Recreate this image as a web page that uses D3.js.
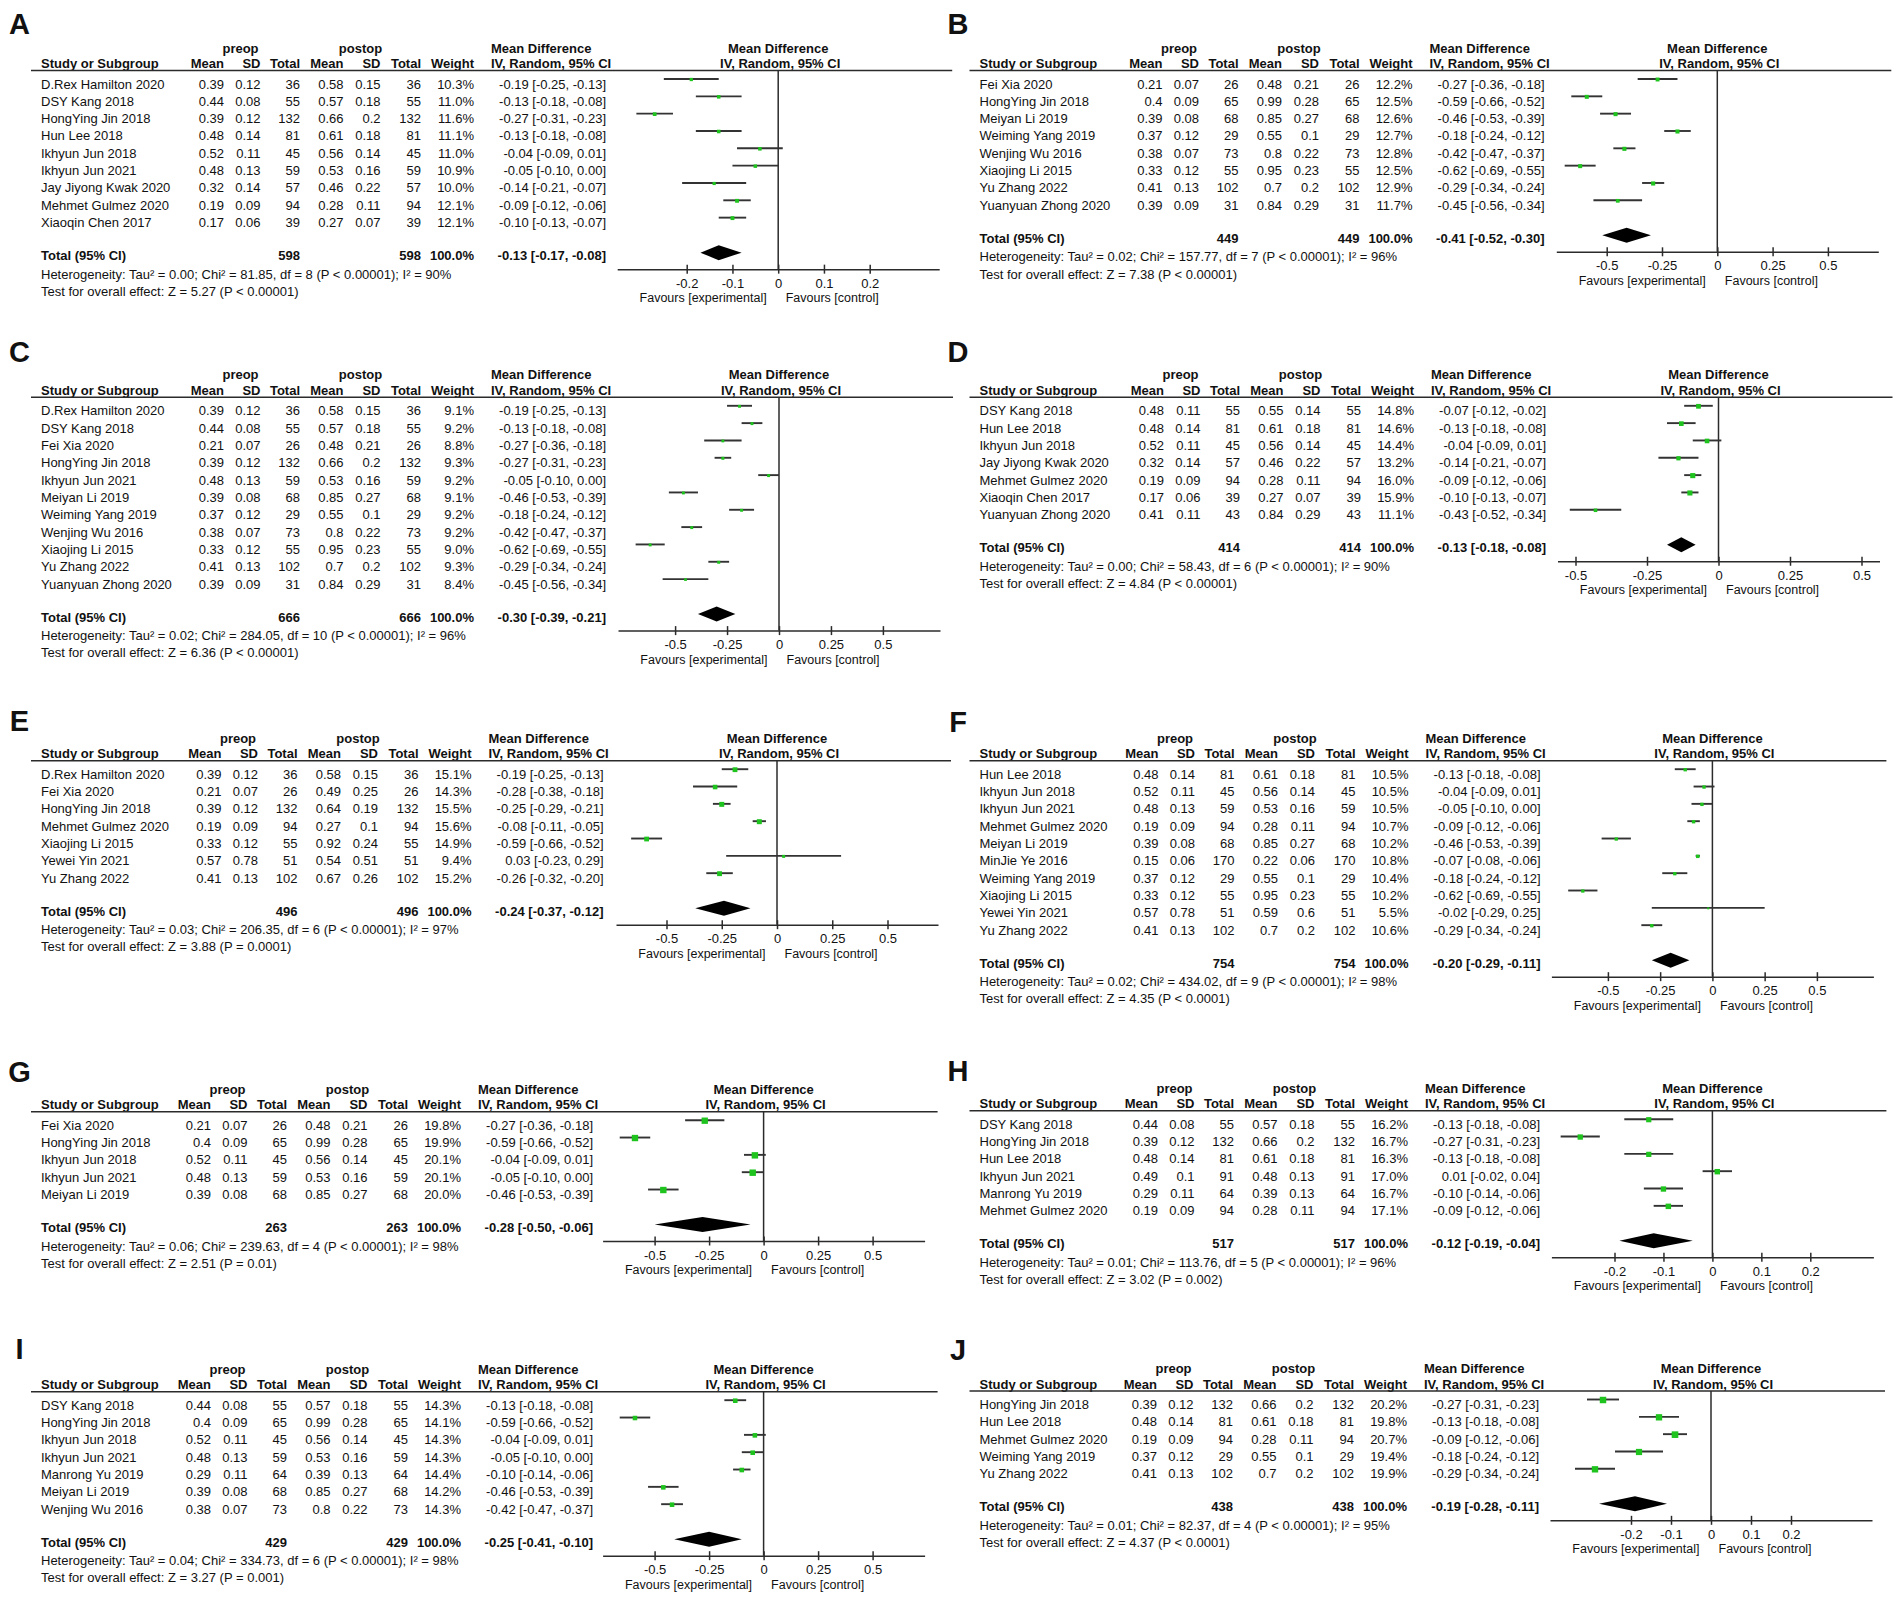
<!DOCTYPE html>
<html>
<head>
<meta charset="utf-8">
<script src="https://cdn.jsdelivr.net/npm/d3@7"></script>
<style>
  body { margin: 0; background: #fff; }
  text { font-family: "Liberation Sans", Arial, sans-serif; font-size: 13px; fill: #111; }
  .b { font-weight: bold; }
  .fav { font-size: 12.5px; }
  .letter { font-size: 29px; font-weight: bold; }
</style>
</head>
<body>
<div id="fig"></div>
<script>
// study, preop mean, sd, total, postop mean, sd, total, weight %, MD, lower, upper
const rowsA = [
  ['D.Rex Hamilton 2020', 0.39, 0.12, 36, 0.58, 0.15, 36, 10.3, -0.19, -0.25, -0.13],
  ['DSY Kang 2018', 0.44, 0.08, 55, 0.57, 0.18, 55, 11.0, -0.13, -0.18, -0.08],
  ['HongYing Jin 2018', 0.39, 0.12, 132, 0.66, 0.2, 132, 11.6, -0.27, -0.31, -0.23],
  ['Hun Lee 2018', 0.48, 0.14, 81, 0.61, 0.18, 81, 11.1, -0.13, -0.18, -0.08],
  ['Ikhyun Jun 2018', 0.52, 0.11, 45, 0.56, 0.14, 45, 11.0, -0.04, -0.09, 0.01],
  ['Ikhyun Jun 2021', 0.48, 0.13, 59, 0.53, 0.16, 59, 10.9, -0.05, -0.10, 0.00],
  ['Jay Jiyong Kwak 2020', 0.32, 0.14, 57, 0.46, 0.22, 57, 10.0, -0.14, -0.21, -0.07],
  ['Mehmet Gulmez 2020', 0.19, 0.09, 94, 0.28, 0.11, 94, 12.1, -0.09, -0.12, -0.06],
  ['Xiaoqin Chen 2017', 0.17, 0.06, 39, 0.27, 0.07, 39, 12.1, -0.10, -0.13, -0.07]
];
const totalA = [598, 598, -0.13, -0.17, -0.08];
const hetA = 'Heterogeneity: Tau² = 0.00; Chi² = 81.85, df = 8 (P < 0.00001); I² = 90%';
const testA = 'Test for overall effect: Z = 5.27 (P < 0.00001)';
const ticksA = [-0.2, -0.1, 0, 0.1, 0.2];

const rowsB = [
  ['Fei Xia 2020', 0.21, 0.07, 26, 0.48, 0.21, 26, 12.2, -0.27, -0.36, -0.18],
  ['HongYing Jin 2018', 0.4, 0.09, 65, 0.99, 0.28, 65, 12.5, -0.59, -0.66, -0.52],
  ['Meiyan Li 2019', 0.39, 0.08, 68, 0.85, 0.27, 68, 12.6, -0.46, -0.53, -0.39],
  ['Weiming Yang 2019', 0.37, 0.12, 29, 0.55, 0.1, 29, 12.7, -0.18, -0.24, -0.12],
  ['Wenjing Wu 2016', 0.38, 0.07, 73, 0.8, 0.22, 73, 12.8, -0.42, -0.47, -0.37],
  ['Xiaojing Li 2015', 0.33, 0.12, 55, 0.95, 0.23, 55, 12.5, -0.62, -0.69, -0.55],
  ['Yu Zhang 2022', 0.41, 0.13, 102, 0.7, 0.2, 102, 12.9, -0.29, -0.34, -0.24],
  ['Yuanyuan Zhong 2020', 0.39, 0.09, 31, 0.84, 0.29, 31, 11.7, -0.45, -0.56, -0.34]
];
const totalB = [449, 449, -0.41, -0.52, -0.30];
const hetB = 'Heterogeneity: Tau² = 0.02; Chi² = 157.77, df = 7 (P < 0.00001); I² = 96%';
const testB = 'Test for overall effect: Z = 7.38 (P < 0.00001)';
const ticksB = [-0.5, -0.25, 0, 0.25, 0.5];

const rowsC = [
  ['D.Rex Hamilton 2020', 0.39, 0.12, 36, 0.58, 0.15, 36, 9.1, -0.19, -0.25, -0.13],
  ['DSY Kang 2018', 0.44, 0.08, 55, 0.57, 0.18, 55, 9.2, -0.13, -0.18, -0.08],
  ['Fei Xia 2020', 0.21, 0.07, 26, 0.48, 0.21, 26, 8.8, -0.27, -0.36, -0.18],
  ['HongYing Jin 2018', 0.39, 0.12, 132, 0.66, 0.2, 132, 9.3, -0.27, -0.31, -0.23],
  ['Ikhyun Jun 2021', 0.48, 0.13, 59, 0.53, 0.16, 59, 9.2, -0.05, -0.10, 0.00],
  ['Meiyan Li 2019', 0.39, 0.08, 68, 0.85, 0.27, 68, 9.1, -0.46, -0.53, -0.39],
  ['Weiming Yang 2019', 0.37, 0.12, 29, 0.55, 0.1, 29, 9.2, -0.18, -0.24, -0.12],
  ['Wenjing Wu 2016', 0.38, 0.07, 73, 0.8, 0.22, 73, 9.2, -0.42, -0.47, -0.37],
  ['Xiaojing Li 2015', 0.33, 0.12, 55, 0.95, 0.23, 55, 9.0, -0.62, -0.69, -0.55],
  ['Yu Zhang 2022', 0.41, 0.13, 102, 0.7, 0.2, 102, 9.3, -0.29, -0.34, -0.24],
  ['Yuanyuan Zhong 2020', 0.39, 0.09, 31, 0.84, 0.29, 31, 8.4, -0.45, -0.56, -0.34]
];
const totalC = [666, 666, -0.30, -0.39, -0.21];
const hetC = 'Heterogeneity: Tau² = 0.02; Chi² = 284.05, df = 10 (P < 0.00001); I² = 96%';
const testC = 'Test for overall effect: Z = 6.36 (P < 0.00001)';
const ticksC = [-0.5, -0.25, 0, 0.25, 0.5];

const rowsD = [
  ['DSY Kang 2018', 0.48, 0.11, 55, 0.55, 0.14, 55, 14.8, -0.07, -0.12, -0.02],
  ['Hun Lee 2018', 0.48, 0.14, 81, 0.61, 0.18, 81, 14.6, -0.13, -0.18, -0.08],
  ['Ikhyun Jun 2018', 0.52, 0.11, 45, 0.56, 0.14, 45, 14.4, -0.04, -0.09, 0.01],
  ['Jay Jiyong Kwak 2020', 0.32, 0.14, 57, 0.46, 0.22, 57, 13.2, -0.14, -0.21, -0.07],
  ['Mehmet Gulmez 2020', 0.19, 0.09, 94, 0.28, 0.11, 94, 16.0, -0.09, -0.12, -0.06],
  ['Xiaoqin Chen 2017', 0.17, 0.06, 39, 0.27, 0.07, 39, 15.9, -0.10, -0.13, -0.07],
  ['Yuanyuan Zhong 2020', 0.41, 0.11, 43, 0.84, 0.29, 43, 11.1, -0.43, -0.52, -0.34]
];
const totalD = [414, 414, -0.13, -0.18, -0.08];
const hetD = 'Heterogeneity: Tau² = 0.00; Chi² = 58.43, df = 6 (P < 0.00001); I² = 90%';
const testD = 'Test for overall effect: Z = 4.84 (P < 0.00001)';
const ticksD = [-0.5, -0.25, 0, 0.25, 0.5];

const rowsE = [
  ['D.Rex Hamilton 2020', 0.39, 0.12, 36, 0.58, 0.15, 36, 15.1, -0.19, -0.25, -0.13],
  ['Fei Xia 2020', 0.21, 0.07, 26, 0.49, 0.25, 26, 14.3, -0.28, -0.38, -0.18],
  ['HongYing Jin 2018', 0.39, 0.12, 132, 0.64, 0.19, 132, 15.5, -0.25, -0.29, -0.21],
  ['Mehmet Gulmez 2020', 0.19, 0.09, 94, 0.27, 0.1, 94, 15.6, -0.08, -0.11, -0.05],
  ['Xiaojing Li 2015', 0.33, 0.12, 55, 0.92, 0.24, 55, 14.9, -0.59, -0.66, -0.52],
  ['Yewei Yin 2021', 0.57, 0.78, 51, 0.54, 0.51, 51, 9.4, 0.03, -0.23, 0.29],
  ['Yu Zhang 2022', 0.41, 0.13, 102, 0.67, 0.26, 102, 15.2, -0.26, -0.32, -0.20]
];
const totalE = [496, 496, -0.24, -0.37, -0.12];
const hetE = 'Heterogeneity: Tau² = 0.03; Chi² = 206.35, df = 6 (P < 0.00001); I² = 97%';
const testE = 'Test for overall effect: Z = 3.88 (P = 0.0001)';
const ticksE = [-0.5, -0.25, 0, 0.25, 0.5];

const rowsF = [
  ['Hun Lee 2018', 0.48, 0.14, 81, 0.61, 0.18, 81, 10.5, -0.13, -0.18, -0.08],
  ['Ikhyun Jun 2018', 0.52, 0.11, 45, 0.56, 0.14, 45, 10.5, -0.04, -0.09, 0.01],
  ['Ikhyun Jun 2021', 0.48, 0.13, 59, 0.53, 0.16, 59, 10.5, -0.05, -0.10, 0.00],
  ['Mehmet Gulmez 2020', 0.19, 0.09, 94, 0.28, 0.11, 94, 10.7, -0.09, -0.12, -0.06],
  ['Meiyan Li 2019', 0.39, 0.08, 68, 0.85, 0.27, 68, 10.2, -0.46, -0.53, -0.39],
  ['MinJie Ye 2016', 0.15, 0.06, 170, 0.22, 0.06, 170, 10.8, -0.07, -0.08, -0.06],
  ['Weiming Yang 2019', 0.37, 0.12, 29, 0.55, 0.1, 29, 10.4, -0.18, -0.24, -0.12],
  ['Xiaojing Li 2015', 0.33, 0.12, 55, 0.95, 0.23, 55, 10.2, -0.62, -0.69, -0.55],
  ['Yewei Yin 2021', 0.57, 0.78, 51, 0.59, 0.6, 51, 5.5, -0.02, -0.29, 0.25],
  ['Yu Zhang 2022', 0.41, 0.13, 102, 0.7, 0.2, 102, 10.6, -0.29, -0.34, -0.24]
];
const totalF = [754, 754, -0.20, -0.29, -0.11];
const hetF = 'Heterogeneity: Tau² = 0.02; Chi² = 434.02, df = 9 (P < 0.00001); I² = 98%';
const testF = 'Test for overall effect: Z = 4.35 (P < 0.0001)';
const ticksF = [-0.5, -0.25, 0, 0.25, 0.5];

const rowsG = [
  ['Fei Xia 2020', 0.21, 0.07, 26, 0.48, 0.21, 26, 19.8, -0.27, -0.36, -0.18],
  ['HongYing Jin 2018', 0.4, 0.09, 65, 0.99, 0.28, 65, 19.9, -0.59, -0.66, -0.52],
  ['Ikhyun Jun 2018', 0.52, 0.11, 45, 0.56, 0.14, 45, 20.1, -0.04, -0.09, 0.01],
  ['Ikhyun Jun 2021', 0.48, 0.13, 59, 0.53, 0.16, 59, 20.1, -0.05, -0.10, 0.00],
  ['Meiyan Li 2019', 0.39, 0.08, 68, 0.85, 0.27, 68, 20.0, -0.46, -0.53, -0.39]
];
const totalG = [263, 263, -0.28, -0.50, -0.06];
const hetG = 'Heterogeneity: Tau² = 0.06; Chi² = 239.63, df = 4 (P < 0.00001); I² = 98%';
const testG = 'Test for overall effect: Z = 2.51 (P = 0.01)';
const ticksG = [-0.5, -0.25, 0, 0.25, 0.5];

const rowsH = [
  ['DSY Kang 2018', 0.44, 0.08, 55, 0.57, 0.18, 55, 16.2, -0.13, -0.18, -0.08],
  ['HongYing Jin 2018', 0.39, 0.12, 132, 0.66, 0.2, 132, 16.7, -0.27, -0.31, -0.23],
  ['Hun Lee 2018', 0.48, 0.14, 81, 0.61, 0.18, 81, 16.3, -0.13, -0.18, -0.08],
  ['Ikhyun Jun 2021', 0.49, 0.1, 91, 0.48, 0.13, 91, 17.0, 0.01, -0.02, 0.04],
  ['Manrong Yu 2019', 0.29, 0.11, 64, 0.39, 0.13, 64, 16.7, -0.10, -0.14, -0.06],
  ['Mehmet Gulmez 2020', 0.19, 0.09, 94, 0.28, 0.11, 94, 17.1, -0.09, -0.12, -0.06]
];
const totalH = [517, 517, -0.12, -0.19, -0.04];
const hetH = 'Heterogeneity: Tau² = 0.01; Chi² = 113.76, df = 5 (P < 0.00001); I² = 96%';
const testH = 'Test for overall effect: Z = 3.02 (P = 0.002)';
const ticksH = [-0.2, -0.1, 0, 0.1, 0.2];

const rowsI = [
  ['DSY Kang 2018', 0.44, 0.08, 55, 0.57, 0.18, 55, 14.3, -0.13, -0.18, -0.08],
  ['HongYing Jin 2018', 0.4, 0.09, 65, 0.99, 0.28, 65, 14.1, -0.59, -0.66, -0.52],
  ['Ikhyun Jun 2018', 0.52, 0.11, 45, 0.56, 0.14, 45, 14.3, -0.04, -0.09, 0.01],
  ['Ikhyun Jun 2021', 0.48, 0.13, 59, 0.53, 0.16, 59, 14.3, -0.05, -0.10, 0.00],
  ['Manrong Yu 2019', 0.29, 0.11, 64, 0.39, 0.13, 64, 14.4, -0.10, -0.14, -0.06],
  ['Meiyan Li 2019', 0.39, 0.08, 68, 0.85, 0.27, 68, 14.2, -0.46, -0.53, -0.39],
  ['Wenjing Wu 2016', 0.38, 0.07, 73, 0.8, 0.22, 73, 14.3, -0.42, -0.47, -0.37]
];
const totalI = [429, 429, -0.25, -0.41, -0.10];
const hetI = 'Heterogeneity: Tau² = 0.04; Chi² = 334.73, df = 6 (P < 0.00001); I² = 98%';
const testI = 'Test for overall effect: Z = 3.27 (P = 0.001)';
const ticksI = [-0.5, -0.25, 0, 0.25, 0.5];

const rowsJ = [
  ['HongYing Jin 2018', 0.39, 0.12, 132, 0.66, 0.2, 132, 20.2, -0.27, -0.31, -0.23],
  ['Hun Lee 2018', 0.48, 0.14, 81, 0.61, 0.18, 81, 19.8, -0.13, -0.18, -0.08],
  ['Mehmet Gulmez 2020', 0.19, 0.09, 94, 0.28, 0.11, 94, 20.7, -0.09, -0.12, -0.06],
  ['Weiming Yang 2019', 0.37, 0.12, 29, 0.55, 0.1, 29, 19.4, -0.18, -0.24, -0.12],
  ['Yu Zhang 2022', 0.41, 0.13, 102, 0.7, 0.2, 102, 19.9, -0.29, -0.34, -0.24]
];
const totalJ = [438, 438, -0.19, -0.28, -0.11];
const hetJ = 'Heterogeneity: Tau² = 0.01; Chi² = 82.37, df = 4 (P < 0.00001); I² = 95%';
const testJ = 'Test for overall effect: Z = 4.37 (P < 0.0001)';
const ticksJ = [-0.2, -0.1, 0, 0.1, 0.2];

// panel placement: column, rule y, letter baseline, table shift, zero line x, px per unit
const panels = [
  {id: 'A', rows: rowsA, total: totalA, het: hetA, test: testA, ticks: ticksA, col: 0, top: 70.5, ly: 34, shift: 0, zero: 778.2, unit: 457.5},
  {id: 'B', rows: rowsB, total: totalB, het: hetB, test: testB, ticks: ticksB, col: 1, top: 70.5, ly: 34, shift: 0, zero: 1717.3, unit: 221.2},
  {id: 'C', rows: rowsC, total: totalC, het: hetC, test: testC, ticks: ticksC, col: 0, top: 397.3, ly: 362, shift: 0, zero: 779, unit: 207.8},
  {id: 'D', rows: rowsD, total: totalD, het: hetD, test: testD, ticks: ticksD, col: 1, top: 397.3, ly: 362, shift: 1.5, zero: 1718.5, unit: 286},
  {id: 'E', rows: rowsE, total: totalE, het: hetE, test: testE, ticks: ticksE, col: 0, top: 760.7, ly: 731, shift: -2.5, zero: 777, unit: 221},
  {id: 'F', rows: rowsF, total: totalF, het: hetF, test: testF, ticks: ticksF, col: 1, top: 760.7, ly: 732, shift: -4, zero: 1712.4, unit: 209},
  {id: 'G', rows: rowsG, total: totalG, het: hetG, test: testG, ticks: ticksG, col: 0, top: 1111.7, ly: 1081.5, shift: -13, zero: 763.6, unit: 218},
  {id: 'H', rows: rowsH, total: totalH, het: hetH, test: testH, ticks: ticksH, col: 1, top: 1110.7, ly: 1080.5, shift: -4.5, zero: 1712.4, unit: 489.5},
  {id: 'I', rows: rowsI, total: totalI, het: hetI, test: testI, ticks: ticksI, col: 0, top: 1391.7, ly: 1359, shift: -13, zero: 763.6, unit: 218},
  {id: 'J', rows: rowsJ, total: totalJ, het: hetJ, test: testJ, ticks: ticksJ, col: 1, top: 1391, ly: 1359.5, shift: -5.5, zero: 1711, unit: 400}
];

const W = 1902, H = 1598;
const colGap = 938.5;
const rowH = 17.33;
const half = 161;
const colsX = {m1: 224, s1: 260.5, n1: 300, m2: 343.5, s2: 380.5, n2: 421, w: 474, ci: 606};
const f2 = v => v.toFixed(2);
const ciText = (md, lo, hi) => `${f2(md)} [${f2(lo)}, ${f2(hi)}]`;

const svg = d3.select('#fig')
  .append('svg')
  .attr('width', W)
  .attr('height', H);

const drawPanel = (p) => {
  const x0 = p.col * colGap;
  const s = x0 + p.shift;
  const R = p.top;
  const n = p.rows.length;
  const yRow = i => R + 18 + i * rowH;
  const yTot = R + 18 + (n - 1) * rowH + 33;
  const axisY = yTot + 9;

  const g = svg.append('g');

  const txt = (t, x, y, anchor, cls) => g.append('text')
    .attr('x', x).attr('y', y)
    .attr('text-anchor', anchor || 'start')
    .attr('class', cls || null)
    .text(t);

  const x = d3.scaleLinear()
    .domain([-half / p.unit, half / p.unit])
    .range([p.zero - half, p.zero + half]);

  txt(p.id, x0 + 19.5, p.ly, 'middle', 'letter');

  // headers
  txt('preop', s + 240.5, R - 18, 'middle', 'b');
  txt('postop', s + 360.5, R - 18, 'middle', 'b');
  txt('Mean Difference', s + 491, R - 18, 'start', 'b');
  txt('Mean Difference', p.zero, R - 18, 'middle', 'b');
  txt('Study or Subgroup', x0 + 41, R - 2.5, 'start', 'b');
  [['Mean', 'm1'], ['SD', 's1'], ['Total', 'n1'], ['Mean', 'm2'], ['SD', 's2'], ['Total', 'n2'], ['Weight', 'w']]
    .forEach(([t, k]) => txt(t, s + colsX[k], R - 2.5, 'end', 'b'));
  txt('IV, Random, 95% CI', s + 491, R - 2.5, 'start', 'b');
  txt('IV, Random, 95% CI', p.zero + 2, R - 2.5, 'middle', 'b');

  g.append('line')
    .attr('x1', x0 + 31).attr('x2', p.zero + 174)
    .attr('y1', R).attr('y2', R)
    .attr('stroke', '#2b2b2b').attr('stroke-width', 1.6);

  // study rows
  const rows = g.selectAll('g.row')
    .data(p.rows)
    .join('g')
      .attr('class', 'row')
      .attr('transform', (d, i) => `translate(0, ${yRow(i)})`);

  rows.append('text').attr('x', x0 + 41).text(d => d[0]);
  const cells = [['m1', 1], ['s1', 2], ['n1', 3], ['m2', 4], ['s2', 5], ['n2', 6]];
  cells.forEach(([k, j]) => {
    rows.append('text')
      .attr('x', s + colsX[k])
      .attr('text-anchor', 'end')
      .text(d => String(d[j]));
  });
  rows.append('text')
    .attr('x', s + colsX.w).attr('text-anchor', 'end')
    .text(d => d[7].toFixed(1) + '%');
  rows.append('text')
    .attr('x', s + colsX.ci).attr('text-anchor', 'end')
    .text(d => ciText(d[8], d[9], d[10]));

  // total row
  const [tn1, tn2, tmd, tlo, thi] = p.total;
  txt('Total (95% CI)', x0 + 41, yTot, 'start', 'b');
  txt(String(tn1), s + colsX.n1, yTot, 'end', 'b');
  txt(String(tn2), s + colsX.n2, yTot, 'end', 'b');
  txt('100.0%', s + colsX.w, yTot, 'end', 'b');
  txt(ciText(tmd, tlo, thi), s + colsX.ci, yTot, 'end', 'b');
  txt(p.het, x0 + 41, yTot + 18.5);
  txt(p.test, x0 + 41, yTot + 35.8);

  // zero line
  g.append('line')
    .attr('x1', x(0)).attr('x2', x(0))
    .attr('y1', R).attr('y2', axisY)
    .attr('stroke', '#2b2b2b').attr('stroke-width', 1.5);

  // confidence intervals and boxes
  g.selectAll('line.ci')
    .data(p.rows)
    .join('line')
      .attr('class', 'ci')
      .attr('x1', d => x(d[9])).attr('x2', d => x(d[10]))
      .attr('y1', (d, i) => yRow(i) - 9.5).attr('y2', (d, i) => yRow(i) - 9.5)
      .attr('stroke', '#333').attr('stroke-width', 1.9);

  const bs = d => Math.max(2, d[7] * 0.32);
  g.selectAll('rect.box')
    .data(p.rows)
    .join('rect')
      .attr('class', 'box')
      .attr('width', bs)
      .attr('height', bs)
      .attr('x', d => x(d[8]) - bs(d) / 2)
      .attr('y', (d, i) => yRow(i) - 9 - bs(d) / 2)
      .attr('fill', '#1ec31e');

  // pooled diamond
  const yc = yTot - 7.5;
  g.append('path')
    .attr('d', `M${x(tlo)},${yc} L${x(tmd)},${yc - 7.5} L${x(thi)},${yc} L${x(tmd)},${yc + 7.5} Z`)
    .attr('fill', '#000');

  // axis
  const axis = d3.axisBottom(x)
    .tickValues(p.ticks)
    .tickSizeInner(4.5)
    .tickSizeOuter(0)
    .tickFormat(d => String(d));

  const ag = g.append('g')
    .attr('transform', `translate(0, ${axisY})`)
    .call(axis);
  ag.select('.domain').attr('stroke', '#2b2b2b').attr('stroke-width', 1.5);
  ag.selectAll('.tick line')
    .attr('y1', -4.5).attr('y2', 4.5)
    .attr('stroke', '#2b2b2b').attr('stroke-width', 1.5);
  ag.selectAll('.tick text').attr('y', 18.5).attr('dy', null);

  txt('Favours [experimental]', x(0) - 11.5, axisY + 33, 'end', 'fav');
  txt('Favours [control]', x(0) + 7.5, axisY + 33, 'start', 'fav');
};

panels.forEach(drawPanel);
</script>
</body>
</html>
